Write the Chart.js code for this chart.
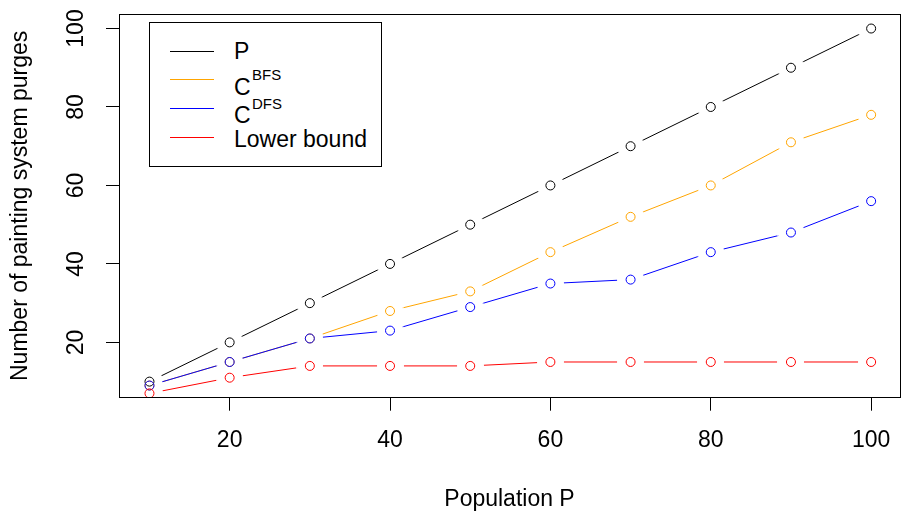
<!DOCTYPE html>
<html>
<head>
<meta charset="utf-8">
<script src="https://cdn.jsdelivr.net/npm/chart.js@4"></script>
<style>
  html, body { margin: 0; padding: 0; overflow: hidden; background: #fff; }
  #wrap { position: relative; width: 914px; height: 521px; }
  #legend { position: absolute; left: 149px; top: 22px; width: 233px; height: 145px;
    box-sizing: border-box; border: 1px solid #000; background: #fff; }
  .key { position: absolute; left: 170px; width: 44px; height: 0; border-top: 1px solid; }
  .lbl { position: absolute; font-family: 'Liberation Sans', Arial, sans-serif;
    font-size: 23px; line-height: 23px; color: #000; white-space: nowrap; }
  .sup { font-size: 15px; line-height: 15px; }
</style>
</head>
<body>
<div id="wrap">
  <canvas id="lineChart" width="914" height="521"></canvas>
  <div id="legend"></div>
  <div class="key" style="top:51px;border-color:#000000"></div>
  <div class="key" style="top:79px;border-color:#FFA500"></div>
  <div class="key" style="top:108px;border-color:#0000FF"></div>
  <div class="key" style="top:137px;border-color:#FF0000"></div>
  <span class="lbl" style="left:234px;top:40px">P</span>
  <span class="lbl" style="left:234px;top:76px">C</span>
  <span class="lbl sup" style="left:252px;top:67px">BFS</span>
  <span class="lbl" style="left:234px;top:104px">C</span>
  <span class="lbl sup" style="left:252px;top:96px">DFS</span>
  <span class="lbl" style="left:234px;top:128px">Lower bound</span>
</div>
<script>
// Graphique purges

const population = [10, 20, 30, 40, 50, 60, 70, 80, 90, 100];
const purgesP = [10, 20, 30, 40, 50, 60, 70, 80, 90, 100];
const purgesBFS = [9, 15, 21, 28, 33, 43, 52, 60, 71, 78];
const purgesDFS = [9, 15, 21, 23, 29, 35, 36, 43, 48, 56];
const lowerBound = [7, 11, 14, 14, 14, 15, 15, 15, 15, 15];
const xTicks = [20, 40, 60, 80, 100];
const yTicks = [20, 40, 60, 80, 100];

const police = "'Liberation Sans', Arial, sans-serif";

const toPoints = (values) => population.map((x, i) => ({ x: x, y: values[i] }));

// disque blanc qui coupe la ligne autour de chaque point (type="b" de R)
const halo = document.createElement("canvas");
halo.width = 27;
halo.height = 27;
const hctx = halo.getContext("2d");
hctx.fillStyle = "#ffffff";
hctx.beginPath();
hctx.arc(13.5, 13.5, 13.5, 0, Math.PI * 2);
hctx.fill();

function ligne(values, color, order) {
  return {
    type: "line",
    data: toPoints(values),
    borderColor: color,
    borderWidth: 1,
    tension: 0,
    pointStyle: halo,
    pointRadius: 13,
    clip: 0,
    order: order,
  };
}

function cercles(values, color, order) {
  return {
    type: "scatter",
    data: toPoints(values),
    showLine: false,
    borderWidth: 0,
    pointBorderColor: color,
    pointBackgroundColor: "rgba(0,0,0,0)",
    pointBorderWidth: 1,
    pointRadius: 4.5,
    clip: 0,
    order: order,
  };
}

// cadre autour de la zone de tracé
const boxPlugin = {
  id: "box",
  afterDatasetsDraw(chart) {
    const a = chart.chartArea;
    const ctx = chart.ctx;
    ctx.save();
    ctx.strokeStyle = "#000";
    ctx.lineWidth = 1;
    const l = Math.floor(a.left) + 0.5;
    const t = Math.floor(a.top) + 0.5;
    const r = Math.floor(a.right) + 0.5;
    const b = Math.floor(a.bottom) + 0.5;
    ctx.strokeRect(l, t, r - l, b - t);
    ctx.restore();
  },
};

const lineChart = document.querySelector("#lineChart");
const myChart = new Chart(lineChart, {
  type: "line",
  data: {
    datasets: [
      ligne(purgesP, "#000000", 8),
      ligne(purgesBFS, "#FFA500", 7),
      ligne(purgesDFS, "#0000FF", 6),
      ligne(lowerBound, "#FF0000", 5),
      cercles(purgesP, "#000000", 4),
      cercles(purgesBFS, "#FFA500", 3),
      cercles(purgesDFS, "#0000FF", 2),
      cercles(lowerBound, "#FF0000", 1),
    ],
  },
  options: {
    responsive: false,
    devicePixelRatio: 1,
    animation: false,
    events: [],
    layout: { padding: { top: 7.6, left: 0, right: 0, bottom: 0 } },
    plugins: {
      legend: { display: false },
      tooltip: { enabled: false },
    },
    scales: {
      x: {
        type: "linear",
        min: 6.2,
        max: 103.6,
        afterBuildTicks: (s) => { s.ticks = xTicks.map((v) => ({ value: v })); },
        afterFit: (s) => { s.height = 123.3; s.paddingLeft = 0; s.paddingRight = 0; },
        border: { display: false },
        grid: { drawOnChartArea: false, tickLength: 13, tickColor: "#000", tickWidth: 1 },
        ticks: { color: "#000", font: { family: police, size: 23 }, padding: 16, maxRotation: 0 },
        title: {
          display: true,
          text: "Population P",
          color: "#000",
          font: { family: police, size: 23 },
          padding: { bottom: 8 },
        },
      },
      y: {
        type: "linear",
        min: 5.9,
        max: 103.7,
        afterBuildTicks: (s) => { s.ticks = yTicks.map((v) => ({ value: v })); },
        afterFit: (s) => { s.width = 119; s.paddingTop = 0; s.paddingBottom = 0; },
        border: { display: false },
        grid: { drawOnChartArea: false, tickLength: 13, tickColor: "#000", tickWidth: 1 },
        ticks: {
          color: "#000",
          font: { family: police, size: 23 },
          padding: 10,
          minRotation: 90,
          maxRotation: 90,
          crossAlign: "center",
        },
        title: {
          display: true,
          text: "Number of painting system purges",
          color: "#000",
          font: { family: police, size: 23 },
          padding: { top: 7 },
        },
      },
    },
  },
  plugins: [boxPlugin],
});
</script>
</body>
</html>
